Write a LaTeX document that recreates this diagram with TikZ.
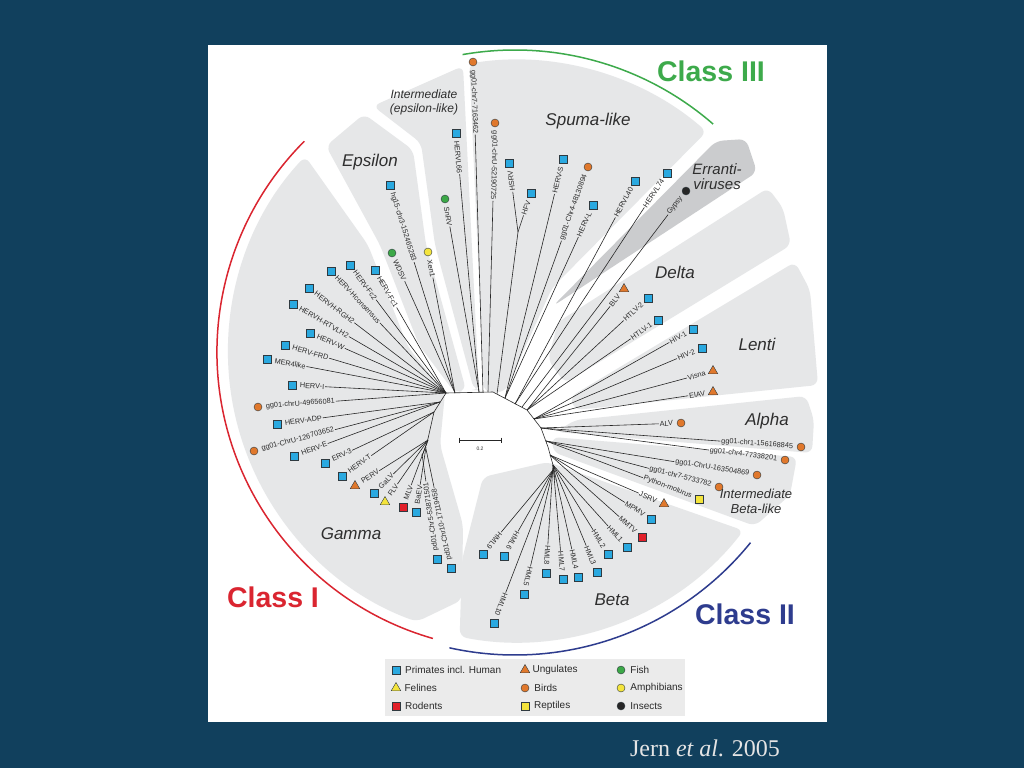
\documentclass[tikz,border=0pt]{standalone}
\usepackage{fontspec}
\setmainfont{Liberation Serif}
\setsansfont{Liberation Sans}
\usetikzlibrary{calc,positioning,shapes.geometric}
\definecolor{slidebg}{HTML}{11405D}
\definecolor{cladegrey}{HTML}{E6E7E8}
\definecolor{errantgrey}{HTML}{CBCCCE}
\definecolor{treeline}{HTML}{262626}
\definecolor{labelgrey}{HTML}{2A2A2A}
\definecolor{cladetext}{HTML}{2E2E2E}
\definecolor{markedge}{HTML}{2F3A40}
\definecolor{classred}{HTML}{DA2530}
\definecolor{classblue}{HTML}{2E3C8E}
\definecolor{classgreen}{HTML}{3DAA4B}
\definecolor{primblue}{HTML}{2AA9E0}
\definecolor{orangemk}{HTML}{E0782C}
\definecolor{yellowmk}{HTML}{F4E43C}
\definecolor{greenmk}{HTML}{3CA847}
\definecolor{redmk}{HTML}{E2202A}
\definecolor{legendgrey}{HTML}{EBEBEB}
\definecolor{captiongrey}{HTML}{E4E4E4}

\begin{document}
\begin{tikzpicture}[
    x=1pt, y=-1pt,
    font=\sffamily,
    region/.style={fill=cladegrey, rounded corners=7pt},
    branch/.style={draw=treeline, line width=0.6pt},
    leaf/.style={font=\sffamily\fontsize{7.3}{8}\selectfont, text=labelgrey, inner sep=0.8pt},
    clade/.style={font=\sffamily\itshape\fontsize{17}{19}\selectfont, text=cladetext, align=center},
    midclade/.style={clade, font=\sffamily\itshape\fontsize{13}{15}\selectfont},
    classname/.style={font=\sffamily\bfseries\fontsize{28.5}{30}\selectfont},
    classarc/.style={line width=1.5pt},
    primate/.style={rectangle, draw=markedge, fill=primblue, minimum size=7.5pt, inner sep=0pt, line width=0.4pt},
    rodent/.style={primate, fill=redmk},
    reptile/.style={primate, fill=yellowmk},
    bird/.style={circle, draw=markedge, fill=orangemk, minimum size=8pt, inner sep=0pt, line width=0.4pt},
    fish/.style={bird, fill=greenmk},
    amphibian/.style={bird, fill=yellowmk},
    insect/.style={bird, fill=black!85},
    ungulate/.style={regular polygon, regular polygon sides=3, draw=markedge, fill=orangemk, minimum size=11pt, inner sep=0pt, line width=0.4pt},
    feline/.style={ungulate, fill=yellowmk},
    legtext/.style={font=\sffamily\fontsize{10}{12}\selectfont, text=labelgrey, inner sep=0pt}
]
\fill[slidebg] (0,0) rectangle (1024,768);
\useasboundingbox (0,0) rectangle (1024,768);
\fill[white] (208,45) rectangle (827,722);
\coordinate (C) at (515,352);

% clade backgrounds
\fill[region] (445,393) -- (408,347) -- (368,245) -- ($(C)+(223:287)$) arc[start angle=223, end angle=110, radius=287] -- (462,600) -- (463,525) -- (440,445) -- cycle;
\fill[region] (455,393) -- (419,345) -- (380,245) -- (326,146) -- (364,114) -- (413,150) -- (426,245) -- (466,390) -- cycle;
\fill[region] (474,390) -- (435,245) -- (421,143) -- (373,106) -- (463,66) -- (479,390) -- cycle;
\fill[region] ($(C)+(261:292)$) arc[start angle=261, end angle=311, radius=292] -- (552,288) -- (505,392) -- (484,392) -- cycle;
\fill[region, fill=errantgrey] (716,141) -- (746,139) -- (757,172) -- (553,306) -- cycle;
\fill[region] (558,322) -- (768,188) -- (783,208) -- (791,245) -- (565,383) -- (548,360) -- cycle;
\fill[region] (570,397) -- (795,262) -- (810,290) -- (818,385) -- (575,410) -- cycle;
\fill[region] (575,420) -- (806,396) -- (814,420) -- (812,453) -- (556,432) -- cycle;
\fill[region] (552,437) -- (797,457) -- (790,495) -- (755,526) -- (553,452) -- cycle;
\fill[region] (548,462) -- ($(C)+(38:290)$) arc[start angle=38, end angle=101, radius=290] -- (462,560) -- (483,477) -- cycle;

% class arcs
\draw[classarc, classred] ($(C)+(106:298)$) arc[start angle=106, end angle=225, radius=298];
\draw[classarc, classblue] ($(C)+(39:303)$) arc[start angle=39, end angle=102.5, radius=303];
\draw[classarc, classgreen] ($(C)+(260:302)$) arc[start angle=260, end angle=311, radius=302];

% backbone of the tree
\coordinate (b1) at (422,456);
\coordinate (b2) at (427,443);
\coordinate (b3) at (434,412);
\coordinate (b4) at (446,393);
\coordinate (b5) at (493,392);
\coordinate (b6) at (527,410);
\coordinate (b7) at (541,428);
\coordinate (b8) at (548,447);
\coordinate (b9) at (553,465);
\coordinate (b10) at (555,480);
\draw[branch] (b1) -- (b2) -- (b3) -- (b4) -- (b5) -- (b6) -- (b7) -- (b8) -- (b9) -- (b10);
\coordinate (spB) at (497,394);
\coordinate (spH) at (518,232);
\draw[branch] (spB) -- (spH);

% leaves read from the mark inwards
\foreach \ax/\ay/\sx/\sy/\mk/\txt [count=\i] in {
    446/393/375/270/primate/HERV-Fc1,
    446/393/350/265/primate/HERV-Fc2,
    446/393/331/271/primate/HERV-Hconsensus,
    446/393/309/288/primate/HERVH-RGH2,
    446/393/293/304/primate/HERVH-RTVLH2,
    446/393/310/333/primate/HERV-W,
    446/393/285/345/primate/HERV-FRD,
    446/393/267/359/primate/MER4like,
    446/393/292/385/primate/HERV-I,
    446/393/258/407/bird/gg01-chrU-49656081,
    440/402/277/424/primate/HERV-ADP,
    440/402/254/451/bird/gg01-ChrU-126703652,
    440/402/294/456/primate/HERV-E,
    434/412/325/463/primate/ERV-3,
    434/412/342/476/primate/HERV-T,
    428/440/355/486/ungulate/PERV,
    428/440/374/493/primate/GaLV,
    428/440/385/502/feline/FLV,
    428/440/403/507/rodent/MLV,
    426/447/416/512/primate/BaEV,
    422/454/437/559/primate/pd01-Chr5-53871501,
    426/449/451/568/primate/pd01-Chr10-17119458,
    455/393/390/185/primate/hg15-chr3-152465283,
    455/393/392/253/fish/WDSV,
    455/393/428/252/amphibian/Xen1,
    479/392/445/199/fish/SnRV,
    479/392/456/133/primate/HERVL66,
    483/392/473/62/bird/gg01-chr7-7163462,
    488/392/495/123/bird/gg01-chrU-52190725}{
  \coordinate (lA\i) at (\ax,\ay);
  \node[\mk] (lS\i) at (\sx,\sy) {};
  \path let \p1=($(lS\i)-(lA\i)$), \n1={atan2(\y1,\x1)} in
    node[leaf, rotate=\n1+180, anchor=west] (lT\i) at ($(lS\i)!7pt!(lA\i)$) {\txt};
  \draw[branch] (lA\i) -- (lT\i.east);
}

% leaves read towards the mark
\foreach \ax/\ay/\sx/\sy/\mk/\txt [count=\i] in {
    518/232/509/163/primate/HSRV,
    518/232/531/193/primate/HFV,
    505/398/563/159/primate/HERV-S,
    505/398/588/167/bird/gg01-Chr4-48130894,
    505/398/593/205/primate/HERV-L,
    515/404/635/181/primate/HERVL40,
    515/404/667/173/primate/HERVL74,
    522/407/686/191/insect/Gypsy,
    527/410/624/289/ungulate/BLV,
    527/410/648/298/primate/HTLV-2,
    527/410/658/320/primate/HTLV-1,
    534/419/693/329/primate/HIV-1,
    534/419/702/348/primate/HIV-2,
    534/419/713/371/ungulate/Visna,
    534/419/713/392/ungulate/EIAV,
    541/428/681/423/bird/ALV,
    541/428/801/447/bird/gg01-chr1-156168845,
    541/428/785/460/bird/gg01-chr4-77338201,
    546/441/757/475/bird/gg01-ChrU-163504869,
    546/441/719/487/bird/gg01-chr7-5733782,
    546/441/699/499/reptile/Python-molurus,
    550/455/664/504/ungulate/JSRV,
    550/455/651/519/primate/MPMV,
    550/455/642/537/rodent/MMTV,
    553/465/627/547/primate/HML1,
    553/465/608/554/primate/HML2,
    553/465/597/572/primate/HML3,
    553/465/578/577/primate/HML4,
    553/465/563/579/primate/HML7,
    553/465/546/573/primate/HML8,
    553/470/524/594/primate/HML5,
    553/470/494/623/primate/HML10,
    553/470/483/554/primate/HML9,
    553/470/504/556/primate/HML6}{
  \coordinate (rA\i) at (\ax,\ay);
  \node[\mk] (rS\i) at (\sx,\sy) {};
  \path let \p1=($(rS\i)-(rA\i)$), \n1={atan2(\y1,\x1)} in
    node[leaf, rotate=\n1, anchor=east] (rT\i) at ($(rS\i)!7pt!(rA\i)$) {\txt};
  \draw[branch] (rA\i) -- (rT\i.west);
}

% clade names
\node[clade] (gammaName) at (351,534) {Gamma};
\node[clade] (epsName) at (370,162) {Epsilon};
\node[midclade, font=\sffamily\itshape\fontsize{12}{14}\selectfont] (intEpsName) at (424,102) {Intermediate\\(epsilon-like)};
\node[clade] (spumaName) at (588,121) {Spuma-like};
\node[clade, font=\sffamily\itshape\fontsize{15}{15}\selectfont] (errName) at (717,177) {Erranti-\\viruses};
\node[clade] (deltaName) at (675,272) {Delta};
\node[clade] (lentiName) at (757,344) {Lenti};
\node[clade] (alphaName) at (767,421) {Alpha};
\node[midclade] (intBetaName) at (756,501) {Intermediate\\Beta-like};
\node[clade] (betaName) at (612,600) {Beta};

% classes
\node[classname, text=classred] (classOne) at (273,597) {Class I};
\node[classname, text=classblue] (classTwo) at (745,614) {Class II};
\node[classname, text=classgreen] (classThree) at (711,71) {Class III};

% scale bar
\coordinate (sbL) at (459,440);
\coordinate (sbR) at (501,440);
\draw[branch] (sbL) -- (sbR);
\draw[branch] ($(sbL)+(0,-2.5)$) -- ($(sbL)+(0,2.5)$);
\draw[branch] ($(sbR)+(0,-2.5)$) -- ($(sbR)+(0,2.5)$);
\node[font=\sffamily\fontsize{5}{5}\selectfont, text=labelgrey] (sbText) at (480,449) {0.2};

% legend
\fill[legendgrey] (385,659) rectangle (685,716);
\node[primate] (lg1) at (396,670) {};
\node[legtext, right=5pt of lg1] (lg1t) {Primates incl. Human};
\node[feline] (lg2) at (396,688) {};
\node[legtext, right=5pt of lg2] (lg2t) {Felines};
\node[rodent] (lg3) at (396,706) {};
\node[legtext, right=5pt of lg3] (lg3t) {Rodents};
\node[ungulate] (lg4) at (525,670) {};
\node[legtext, right=4pt of lg4] (lg4t) {Ungulates};
\node[bird] (lg5) at (525,688) {};
\node[legtext, right=5pt of lg5] (lg5t) {Birds};
\node[reptile] (lg6) at (525,706) {};
\node[legtext, right=5pt of lg6] (lg6t) {Reptiles};
\node[fish] (lg7) at (621,670) {};
\node[legtext, right=5pt of lg7] (lg7t) {Fish};
\node[amphibian] (lg8) at (621,688) {};
\node[legtext, right=5pt of lg8] (lg8t) {Amphibians};
\node[insect] (lg9) at (621,706) {};
\node[legtext, right=5pt of lg9] (lg9t) {Insects};

% source
\node[font=\rmfamily\fontsize{24}{26}\selectfont, text=captiongrey] (cite) at (705,748) {Jern \textit{et al}. 2005};
\end{tikzpicture}
\end{document}
